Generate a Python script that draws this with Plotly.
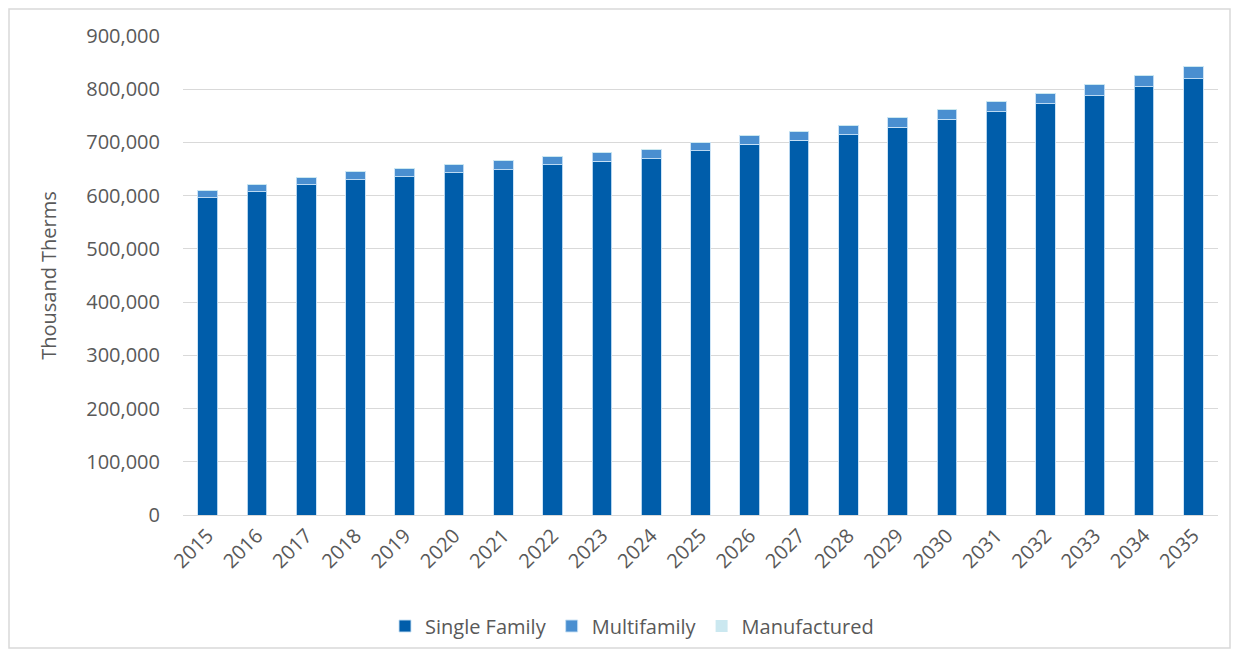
import plotly.graph_objects as go

years = [str(y) for y in range(2015, 2036)]
single_family = [596000, 607500, 620600, 630000, 636000, 642600, 649100, 658000, 664800, 669800,
                 684400, 696200, 703800, 714600, 728900, 743400, 757800, 772800, 788000, 804300, 819600]
totals = [610100, 621400, 635000, 645000, 651700, 659200, 666800, 674300, 681000, 687400,
          700800, 713800, 721300, 732000, 747200, 762800, 776600, 791700, 809400, 825700, 842700]
manufactured = [400] * 21
multifamily = [t - s - m for t, s, m in zip(totals, single_family, manufactured)]

font_family = "Open Sans"
grey = "#595959"
edge = dict(color="rgba(200,225,245,0.9)", width=1)

fig = go.Figure()
fig.add_trace(go.Bar(x=years, y=single_family, name="Single Family",
                     marker=dict(color="#005DAA", line=edge)))
fig.add_trace(go.Bar(x=years, y=multifamily, name="Multifamily",
                     marker=dict(color="#4A8FD0", line=edge)))
fig.add_trace(go.Bar(x=years, y=manufactured, name="Manufactured",
                     marker=dict(color="#CBE8F0", line=dict(width=0))))

# page has an 8px body margin; figure therefore starts at (8, 8)
W, H = 1235, 649
L, T, R, B = 175, 28, 25, 142
pw, ph = W - L - R, H - T - B

fig.update_layout(
    barmode="stack",
    bargap=0.6,
    width=W, height=H,
    margin=dict(l=L, r=R, t=T, b=B),
    paper_bgcolor="white", plot_bgcolor="white",
    font=dict(family=font_family, size=20, color=grey),
    legend=dict(orientation="h", x=(632 - 183) / pw, xanchor="center",
                y=(515 - 626) / ph, yanchor="middle", bgcolor="rgba(0,0,0,0)",
                font=dict(size=20, color=grey), traceorder="normal"),
    xaxis=dict(tickangle=-45, showline=True, linecolor="#d9d9d9", linewidth=1,
               tickfont=dict(size=20, color=grey), ticks=""),
    yaxis=dict(range=[0, 900000], dtick=100000, tickformat=",", showgrid=True,
               gridcolor="#d9d9d9", gridwidth=1, zeroline=False, ticks="",
               ticklabelstandoff=22,
               tickfont=dict(size=20, color=grey),
               title=dict(text="Thousand Therms", font=dict(size=20, color=grey), standoff=24)),
    shapes=[dict(type="rect", xref="paper", yref="paper",
                 x0=(1 - L) / pw, x1=(1230 - 8 - L) / pw,
                 y0=(T + ph - (648 - 8)) / ph,
                 y1=(T + ph - 1) / ph,
                 line=dict(color="#d9d9d9", width=1.5), fillcolor="rgba(0,0,0,0)", layer="below")],
)

fig.write_html("out.html")
